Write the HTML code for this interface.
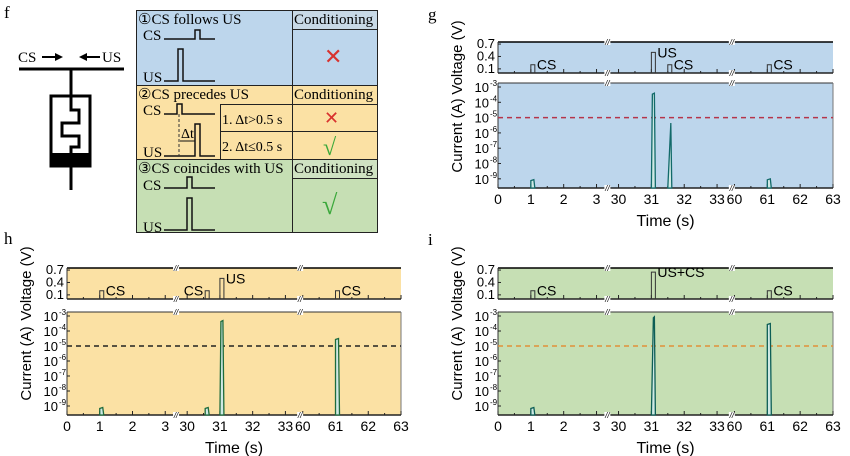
<!DOCTYPE html>
<html><head><meta charset="utf-8"><style>
html,body{margin:0;padding:0;background:#fff;}
svg{display:block;font-family:"Liberation Sans",sans-serif;}
.serif{font-family:"Liberation Serif",serif;}
</style></head><body>
<svg id="s" width="850" height="456" viewBox="0 0 850 456" xmlns="http://www.w3.org/2000/svg">
<g class="serif" font-size="15">
<text x="4" y="18" font-size="17">f</text>
<text x="4" y="244" font-size="17">h</text>
<text x="428" y="20" font-size="17">g</text>
<text x="428" y="245" font-size="17">i</text>
<text x="18" y="62">CS</text>
<line x1="42" y1="57" x2="58" y2="57" stroke="#000" stroke-width="2"/>
<polygon points="63,57 55,53 55,61" fill="#000"/>
<line x1="84" y1="57" x2="100" y2="57" stroke="#000" stroke-width="2"/>
<polygon points="79,57 87,53 87,61" fill="#000"/>
<text x="102" y="62">US</text>
<line x1="19" y1="69" x2="124" y2="69" stroke="#000" stroke-width="3"/>
<line x1="71" y1="69" x2="71" y2="96" stroke="#000" stroke-width="3"/>
<rect x="51" y="96" width="39" height="70" fill="none" stroke="#000" stroke-width="3"/>
<rect x="51" y="153" width="39" height="13" fill="#000"/>
<polyline points="71,96 71,110 79,110 79,123 62,123 62,136 79,136 79,147 71,147 71,153" fill="none" stroke="#000" stroke-width="3"/>
<line x1="71" y1="166" x2="71" y2="190" stroke="#000" stroke-width="3"/>

<rect x="136" y="10" width="242" height="75" fill="#bdd6ec"/>
<rect x="136" y="85" width="242" height="74" fill="#fbe1a4"/>
<rect x="136" y="159" width="242" height="74" fill="#c6dfb4"/>
<rect x="292" y="10" width="86" height="19" fill="#c8d9e6"/>
<rect x="292" y="159" width="86" height="19" fill="#cfe2c2"/>
<g fill="none" stroke="#222" stroke-width="1">
<rect x="136.5" y="10.5" width="241" height="222"/>
<line x1="292.5" y1="10" x2="292.5" y2="233"/>
<line x1="136" y1="85.5" x2="378" y2="85.5"/>
<line x1="136" y1="159.5" x2="378" y2="159.5"/>
<line x1="292" y1="29.5" x2="378" y2="29.5"/>
<line x1="292" y1="104.5" x2="378" y2="104.5"/>
<line x1="292" y1="178.5" x2="378" y2="178.5"/>
<line x1="220" y1="104.5" x2="292" y2="104.5"/>
<line x1="220" y1="131.5" x2="378" y2="131.5"/>
<line x1="220.5" y1="104" x2="220.5" y2="159"/>
</g>
<g font-size="15">
<text x="138" y="24">①CS follows US</text>
<text x="294" y="24">Conditioning</text>
<text x="138" y="99">②CS precedes US</text>
<text x="294" y="99">Conditioning</text>
<text x="138" y="173">③CS coincides with US</text>
<text x="294" y="173">Conditioning</text>
<text x="143" y="40">CS</text><text x="143" y="82">US</text>
<text x="143" y="115">CS</text><text x="143" y="157">US</text>
<text x="143" y="190">CS</text><text x="143" y="232">US</text>
<text x="222" y="124" font-size="14">1. Δt&gt;0.5 s</text>
<text x="222" y="151" font-size="14">2. Δt≤0.5 s</text>
<text x="181" y="138" font-size="14">Δt</text>
</g>
<g fill="none" stroke="#111" stroke-width="1.5">
<polyline points="164,39 195,39 195,30 200,30 200,39 215,39"/>
<polyline points="164,81 178,81 178,49 183,49 183,81 215,81"/>
<polyline points="164,114 177,114 177,104 182,104 182,114 215,114"/>
<polyline points="164,156 195,156 195,124 200,124 200,156 215,156"/>
<polyline points="164,188 187,188 187,177 192,177 192,188 215,188"/>
<polyline points="164,230 187,230 187,198 192,198 192,230 215,230"/>
</g>
<line x1="179" y1="114" x2="179" y2="156" stroke="#333" stroke-dasharray="3,2"/>
<line x1="180" y1="141" x2="195" y2="141" stroke="#111"/>
<text x="324" y="64" fill="#d8322e" font-size="22" font-family="DejaVu Sans">✕</text>
<text x="324" y="124" fill="#d8322e" font-size="18" font-family="DejaVu Sans">✕</text>
<text x="323" y="155" fill="#3aa83a" font-size="24">√</text>
<text x="322" y="214" fill="#3aa83a" font-size="28">√</text>
</g>
<g id="plots"></g>
</svg>
<script>
const NS="http://www.w3.org/2000/svg";
const root=document.getElementById('plots');
function el(t,a,txt){const e=document.createElementNS(NS,t);for(const k in a)e.setAttribute(k,a[k]);if(txt!==undefined)e.textContent=txt;root.appendChild(e);return e;}
function plot(p){
 const w=p.x1-p.x0,u=w/10.2;
 const X=t=>p.x0+u*(t<15?t:t<45?(t-30+3.67):(t-60+7.2));
 const V=v=>p.vb-v*(p.vb-p.vt)/0.75;
 const dec=(p.cb-p.ct-4)/6.6;
 const C=l=>p.ct+4+(-3-l)*dec;
 el('rect',{x:p.x0,y:p.vt,width:w,height:p.vb-p.vt,fill:p.bg});
 el('rect',{x:p.x0,y:p.ct,width:w,height:p.cb-p.ct,fill:p.bg});
 el('line',{x1:p.x0,y1:p.vt,x2:p.x1,y2:p.vt,stroke:'#000','stroke-width':1.5});
 el('line',{x1:p.x0,y1:p.ct,x2:p.x1,y2:p.ct,stroke:'#333','stroke-width':1});
 el('line',{x1:p.x0,y1:p.vb,x2:p.x1,y2:p.vb,stroke:'#222','stroke-width':1.5});
 el('line',{x1:p.x0,y1:p.cb,x2:p.x1,y2:p.cb,stroke:'#222','stroke-width':1.5});
 el('line',{x1:p.x0,y1:p.vt,x2:p.x0,y2:p.vb,stroke:'#333'});
 el('line',{x1:p.x0,y1:p.ct,x2:p.x0,y2:p.cb,stroke:'#333'});
 el('line',{x1:p.x1,y1:p.ct,x2:p.x1,y2:p.cb,stroke:'#777'});
 const ts=[0,0.5,1,1.5,2,2.5,3,30,30.5,31,31.5,32,32.5,33,60,60.5,61,61.5,62,62.5,63];
 ts.forEach(t=>{const x=X(t),m=(t%1===0)?4:2;
  el('line',{x1:x,y1:p.cb,x2:x,y2:p.cb-m,stroke:'#222'});
  el('line',{x1:x,y1:p.vb,x2:x,y2:p.vb-m,stroke:'#222'});
  if(t%1===0)el('text',{x:x,y:p.cb+16,'font-size':14,'text-anchor':'middle'},String(t));});
 [3.33,33.45].forEach(t=>{const x=X(t);[p.vt,p.vb,p.ct,p.cb].forEach(y=>{el('rect',{x:x-3,y:y-3,width:6,height:6,fill:'#fff'});el('text',{x:x,y:y+3,'font-size':8,'text-anchor':'middle','font-style':'italic'},'//');});});
 el('text',{x:(p.x0+p.x1)/2,y:p.cb+38,'font-size':16,'text-anchor':'middle'},'Time (s)');
 [[0.7,'0.7'],[0.4,'0.4'],[0.1,'0.1']].forEach(([v,s])=>{el('text',{x:p.x0-3,y:V(v)+4,'font-size':13,'text-anchor':'end'},s);el('line',{x1:p.x0,y1:V(v),x2:p.x0+3,y2:V(v),stroke:'#222'});});
 for(let l=-3;l>=-9;l--){const y=C(l);el('text',{x:p.x0-9,y:y+5,'font-size':13,'text-anchor':'end'},'10');
  el('text',{x:p.x0-8,y:y-1,'font-size':8},String(l));el('line',{x1:p.x0,y1:y,x2:p.x0+3,y2:y,stroke:'#222'});}
 const lx=p.x0-36;
 el('text',{x:lx,y:(p.vt+p.vb)/2,'font-size':15,'text-anchor':'middle',transform:`rotate(-90 ${lx} ${(p.vt+p.vb)/2})`},'Voltage (V)');
 el('text',{x:lx,y:(p.ct+p.cb)/2,'font-size':15,'text-anchor':'middle',transform:`rotate(-90 ${lx} ${(p.ct+p.cb)/2})`},'Current (A)');
 el('line',{x1:p.x0,y1:C(-5),x2:p.x1,y2:C(-5),stroke:p.dash,'stroke-width':1.5,'stroke-dasharray':'5,4'});
 p.vp.forEach(([t,v,lab,dx])=>{const a=X(t),b=X(t)+4;
  el('polyline',{points:`${a},${p.vb} ${a},${V(v)} ${b},${V(v)} ${b},${p.vb}`,fill:'none',stroke:'#333','stroke-width':1});
  if(lab)el('text',{x:(dx<0?a-2:b+2),y:V(v)+5,'font-size':14,'text-anchor':(dx<0?'end':'start')},lab);});
 p.cp.forEach(([t,l,w,sl])=>{const a=X(t),b=a+(w||4),y=C(l);
  el('polygon',{points:`${a},${p.cb} ${a+(sl||0)},${y+1} ${b-1},${y} ${b},${p.cb}`,fill:'#cfe9e4',stroke:p.tr,'stroke-width':1.3});});
}
plot({x0:498,x1:833,vt:42,vb:73,ct:83,cb:188,bg:'#bdd6ec',dash:'#b5354a',tr:'#126a6a',
 vp:[[1,0.2,'CS'],[31,0.5,'US'],[31.5,0.2,'CS'],[61,0.2,'CS']],
 cp:[[1,-9.05,4],[31,-3.4,4,1],[31.5,-5.35,4,3],[61,-9.0,4]]});
plot({x0:67,x1:401,vt:268,vb:299,ct:312,cb:415,bg:'#fbe1a4',dash:'#222',tr:'#1e6b3c',
 vp:[[1,0.2,'CS'],[30.55,0.2,'CS',-8],[31,0.5,'US'],[61,0.2,'CS']],
 cp:[[1,-9.1,4],[30.55,-9.1,4],[31,-3.3,4,1],[61,-4.5,4]]});
plot({x0:498,x1:833,vt:268,vb:299,ct:312,cb:415,bg:'#c6dfb4',dash:'#e0903a',tr:'#0d5e55',
 vp:[[1,0.2,'CS'],[31,0.65,'US+CS'],[61,0.2,'CS']],
 cp:[[1,-9.1,4],[31,-3.05,4,2],[61,-3.5,4]]});
</script>
</body></html>
